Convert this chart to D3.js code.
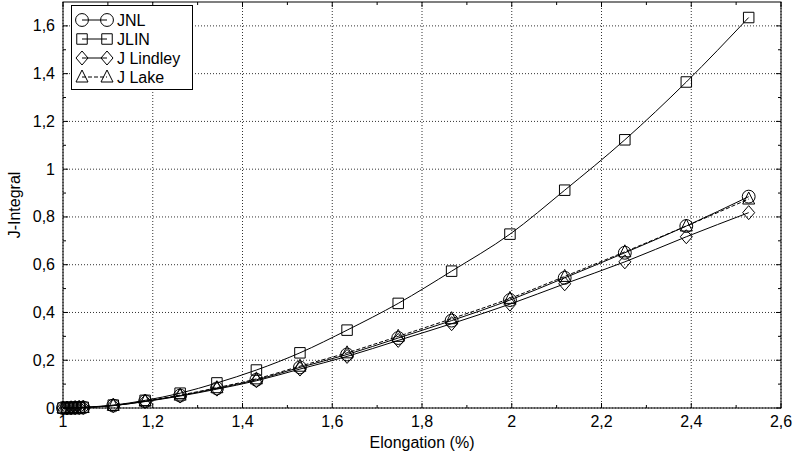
<!DOCTYPE html>
<html lang="en">
<head>
<meta charset="UTF-8">
<title>J-Integral vs Elongation</title>
<script src="https://d3js.org/d3.v7.min.js"></script>
<style>
    body { margin: 0; background: #fff; }
    text { font-family: "Liberation Sans", Arial, sans-serif; fill: #000; }
    .tick-label { font-size: 16px; }
    .axis-title { font-size: 16px; }
    .legend text { font-size: 16px; }
</style>
</head>
<body>
<div id="chart"></div>
<script>
// Elongation (%) values
const elongation = [1.0, 1.009, 1.018, 1.027, 1.036, 1.045, 1.112, 1.183, 1.261, 1.343, 1.431, 1.528, 1.633, 1.747, 1.866, 1.996, 2.118, 2.252, 2.389, 2.528];

// J-Integral series
const jnl     = [0, 0, 0.0005, 0.001, 0.0015, 0.002, 0.010, 0.028, 0.052, 0.082, 0.118, 0.170, 0.224, 0.293, 0.366, 0.452, 0.545, 0.650, 0.762, 0.885];
const jlin    = [0, 0.0005, 0.001, 0.0015, 0.002, 0.003, 0.012, 0.032, 0.062, 0.105, 0.159, 0.231, 0.326, 0.438, 0.573, 0.728, 0.912, 1.123, 1.365, 1.635];
const jLindley = [0, 0, 0.0005, 0.001, 0.0015, 0.002, 0.010, 0.027, 0.050, 0.079, 0.114, 0.163, 0.216, 0.283, 0.353, 0.435, 0.520, 0.612, 0.717, 0.818];
const jLake   = [0, 0, 0.0005, 0.001, 0.0015, 0.002, 0.011, 0.029, 0.054, 0.085, 0.122, 0.175, 0.231, 0.300, 0.374, 0.459, 0.551, 0.654, 0.762, 0.875];

const seriesNames = ["JNL", "JLIN", "J Lindley", "J Lake"];
const seriesValues = [jnl, jlin, jLindley, jLake];
const seriesSymbols = ["circle", "square", "diamond", "triangle"];
const seriesDash = [null, null, null, "4,2"];

const xTicks = [1, 1.2, 1.4, 1.6, 1.8, 2, 2.2, 2.4, 2.6];
const yTicks = [0, 0.2, 0.4, 0.6, 0.8, 1, 1.2, 1.4, 1.6];

const W = 800, H = 456;
const margin = { top: 2, right: 19, bottom: 48, left: 63 };
const width = W - margin.left - margin.right,
      height = H - margin.top - margin.bottom;

const svg = d3.select("#chart").append("svg")
    .attr("width", W).attr("height", H);
const g = svg.append("g").attr("transform", `translate(${margin.left},${margin.top})`);

const x = d3.scaleLinear().domain([1, 2.6]).range([0, width]);
const y = d3.scaleLinear().domain([0, 1.7]).range([height, 0]);

const locale = d3.formatLocale({ decimal: ",", thousands: ".", grouping: [3], currency: ["", ""] });
const fmt = locale.format("~g");

// grid
g.append("g").selectAll("line").data(xTicks).join("line")
    .attr("x1", d => x(d)).attr("x2", d => x(d))
    .attr("y1", 0).attr("y2", height)
    .attr("stroke", "#333").attr("stroke-width", 1).attr("stroke-dasharray", "1,2");
g.append("g").selectAll("line").data(yTicks).join("line")
    .attr("x1", 0).attr("x2", width)
    .attr("y1", d => y(d)).attr("y2", d => y(d))
    .attr("stroke", "#333").attr("stroke-width", 1).attr("stroke-dasharray", "1,2");

// ticks (inward, on all four sides)
const minorX = d3.range(11, 26).map(d => d / 10).filter(d => !xTicks.some(t => Math.abs(t - d) < 1e-9));
const minorY = d3.range(1, 17).map(d => d / 10).filter(d => !yTicks.some(t => Math.abs(t - d) < 1e-9));
const tickG = g.append("g").attr("stroke", "#000").attr("stroke-width", 1);
[[xTicks, 5], [minorX, 3]].forEach(([arr, len]) => {
    tickG.selectAll(null).data(arr).join("line")
        .attr("x1", d => x(d)).attr("x2", d => x(d)).attr("y1", height).attr("y2", height - len);
    tickG.selectAll(null).data(arr).join("line")
        .attr("x1", d => x(d)).attr("x2", d => x(d)).attr("y1", 0).attr("y2", len);
});
[[yTicks, 5], [minorY, 3]].forEach(([arr, len]) => {
    tickG.selectAll(null).data(arr).join("line")
        .attr("y1", d => y(d)).attr("y2", d => y(d)).attr("x1", 0).attr("x2", len);
    tickG.selectAll(null).data(arr).join("line")
        .attr("y1", d => y(d)).attr("y2", d => y(d)).attr("x1", width).attr("x2", width - len);
});

// tick labels
g.append("g").selectAll("text").data(xTicks).join("text")
    .attr("class", "tick-label")
    .attr("x", d => x(d)).attr("y", height + 19)
    .attr("text-anchor", "middle")
    .text(d => fmt(d));
g.append("g").selectAll("text").data(yTicks).join("text")
    .attr("class", "tick-label")
    .attr("x", -8).attr("y", d => y(d) + 5.5)
    .attr("text-anchor", "end")
    .text(d => fmt(d));

// axis titles
svg.append("text").attr("class", "axis-title")
    .attr("x", margin.left + width / 2).attr("y", 448)
    .attr("text-anchor", "middle").text("Elongation (%)");
svg.append("text").attr("class", "axis-title")
    .attr("transform", `translate(20,${margin.top + height / 2}) rotate(-90)`)
    .attr("text-anchor", "middle").text("J-Integral");

// symbols
const symbolPath = {
    circle: d3.symbol(d3.symbolCircle, 130)(),
    square: d3.symbol(d3.symbolSquare, 110)(),
    diamond: "M0,-7L6,0L0,7L-6,0Z",
    triangle: "M0,-7L6,5L-6,5Z"
};

const line = d3.line()
    .x(d => x(d[0])).y(d => y(d[1]))
    .curve(d3.curveMonotoneX);

seriesValues.forEach((vals, i) => {
    const pts = elongation.map((e, j) => [e, vals[j]]);
    g.append("path").datum(pts)
        .attr("d", line)
        .attr("fill", "none")
        .attr("stroke", "#000")
        .attr("stroke-width", 1)
        .attr("stroke-dasharray", seriesDash[i]);
    g.append("g").selectAll("path").data(pts).join("path")
        .attr("transform", d => `translate(${x(d[0])},${y(d[1])})`)
        .attr("d", symbolPath[seriesSymbols[i]])
        .attr("fill", "none")
        .attr("stroke", "#000")
        .attr("stroke-width", 1);
});

// frame
g.append("rect").attr("width", width).attr("height", height)
    .attr("fill", "none").attr("stroke", "#000").attr("stroke-width", 1);

// legend
const legend = svg.append("g").attr("class", "legend");
legend.append("rect")
    .attr("x", 71.5).attr("y", 5.5).attr("width", 121).attr("height", 84)
    .attr("fill", "#fff").attr("stroke", "#000");
seriesNames.forEach((name, i) => {
    const ly = 20 + i * 19;
    legend.append("line")
        .attr("x1", 82).attr("x2", 107).attr("y1", ly).attr("y2", ly)
        .attr("stroke", "#000").attr("stroke-dasharray", seriesDash[i]);
    [82, 107].forEach(lx => {
        legend.append("path")
            .attr("transform", `translate(${lx},${ly})`)
            .attr("d", symbolPath[seriesSymbols[i]])
            .attr("fill", "none").attr("stroke", "#000");
    });
    legend.append("text")
        .attr("x", 117).attr("y", ly + 6)
        .text(name);
});
</script>
</body>
</html>
